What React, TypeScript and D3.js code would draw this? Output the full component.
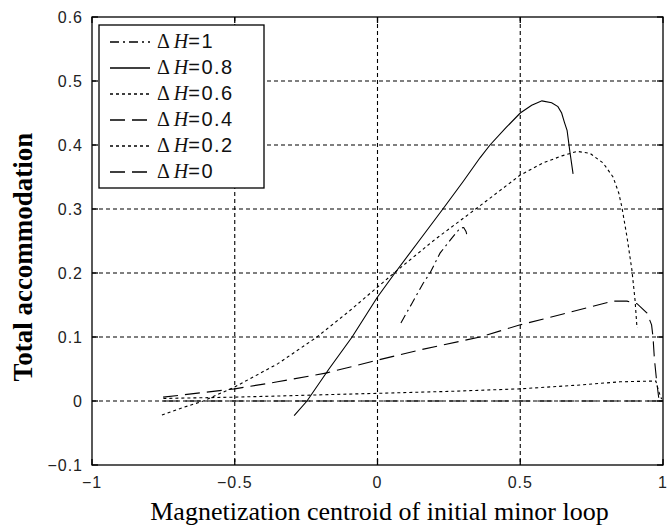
import React, { useRef, useEffect } from "react";
import * as d3 from "d3";

// curves: [magnetization centroid, total accommodation]
const dh1 = [
  [0.082, 0.122], [0.12, 0.152], [0.16, 0.184], [0.184, 0.2], [0.219, 0.231],
  [0.261, 0.255], [0.289, 0.27], [0.302, 0.271], [0.31, 0.265], [0.314, 0.258],
];
const dh08 = [
  [-0.292, -0.023], [-0.247, 0], [-0.17, 0.05], [-0.089, 0.1], [0, 0.1625],
  [0.061, 0.2], [0.145, 0.25], [0.229, 0.3], [0.3, 0.343], [0.359, 0.38],
  [0.394, 0.4], [0.45, 0.427], [0.5, 0.45], [0.54, 0.462], [0.576, 0.469],
  [0.61, 0.466], [0.632, 0.46], [0.645, 0.45], [0.655, 0.435], [0.664, 0.423],
  [0.674, 0.389], [0.685, 0.355],
];
const dh06 = [
  [-0.755, -0.022], [-0.68, -0.01], [-0.61, 0], [-0.5, 0.022], [-0.35, 0.058],
  [-0.212, 0.1], [-0.1, 0.14], [0, 0.178], [0.058, 0.2], [0.2, 0.252],
  [0.359, 0.305], [0.5, 0.353], [0.58, 0.372], [0.646, 0.383], [0.699, 0.39],
  [0.744, 0.387], [0.79, 0.372], [0.825, 0.35], [0.845, 0.325], [0.856, 0.303],
  [0.874, 0.256], [0.891, 0.205], [0.902, 0.158], [0.909, 0.114],
];
const dh04 = [
  [-0.751, 0.006], [-0.5, 0.019], [-0.35, 0.03], [-0.177, 0.044], [-0.026, 0.061],
  [0.15, 0.08], [0.359, 0.1], [0.5, 0.119], [0.65, 0.136], [0.825, 0.156],
  [0.874, 0.156], [0.909, 0.152], [0.944, 0.1375], [0.96, 0.119], [0.965, 0.1],
  [0.97, 0.065], [0.978, 0.03], [0.985, 0.005],
];
const dh02 = [
  [-0.75, 0.004], [-0.5, 0.006], [-0.25, 0.009], [0, 0.012], [0.25, 0.015],
  [0.5, 0.019], [0.709, 0.025], [0.849, 0.03], [0.944, 0.031], [0.975, 0.031],
  [0.985, 0.015], [0.995, 0.003],
];
const dh0 = [[-0.75, 0], [1, 0]];

const legendLabels = ["1", "0.8", "0.6", "0.4", "0.2", "0"];
const xTicks = [-1, -0.5, 0, 0.5, 1];
const yTicks = [-0.1, 0, 0.1, 0.2, 0.3, 0.4, 0.5, 0.6];
const xGrid = [-0.5, 0, 0.5];
const yGrid = [0, 0.1, 0.2, 0.3, 0.4, 0.5];

const series = [
  { data: dh1, dash: "9,4,2,4" },
  { data: dh08, dash: null },
  { data: dh06, dash: "3,3" },
  { data: dh04, dash: "15,7" },
  { data: dh02, dash: "3,3" },
  { data: dh0, dash: "15,7" },
];

const App = () => {
  const ref = useRef<SVGSVGElement>(null);

  useEffect(() => {
    const width = 670;
    const height = 527;
    const left = 92, right = 663, top = 17, bottom = 465;

    const x = d3.scaleLinear().domain([-1, 1]).range([left, right]);
    const y = d3.scaleLinear().domain([-0.1, 0.6]).range([bottom, top]);

    const svg = d3.select(ref.current);
    svg.selectAll("*").remove();
    svg.attr("width", width).attr("height", height);

    svg.append("rect").attr("width", width).attr("height", height).attr("fill", "#fff");

    // dotted grid
    const grid = svg.append("g").attr("stroke", "#000").attr("stroke-dasharray", "4,3").attr("stroke-width", 1.1);
    xGrid.forEach(v => {
      grid.append("line").attr("x1", x(v)).attr("x2", x(v)).attr("y1", top).attr("y2", bottom);
    });
    yGrid.forEach(v => {
      grid.append("line").attr("x1", left).attr("x2", right).attr("y1", y(v)).attr("y2", y(v));
    });

    // curves
    const line = d3.line<number[]>().x(d => x(d[0])).y(d => y(d[1]));
    series.forEach(s => {
      svg.append("path")
        .datum(s.data)
        .attr("fill", "none")
        .attr("stroke", "#000")
        .attr("stroke-width", 1.1)
        .attr("stroke-dasharray", s.dash)
        .attr("d", line);
    });

    // box + inward ticks (matlab style)
    svg.append("rect")
      .attr("x", left).attr("y", top)
      .attr("width", right - left).attr("height", bottom - top)
      .attr("fill", "none").attr("stroke", "#000").attr("stroke-width", 1.3);

    const tk = 6;
    const ticks = svg.append("g").attr("stroke", "#000").attr("stroke-width", 1.3);
    xTicks.forEach(v => {
      ticks.append("line").attr("x1", x(v)).attr("x2", x(v)).attr("y1", bottom).attr("y2", bottom - tk);
      ticks.append("line").attr("x1", x(v)).attr("x2", x(v)).attr("y1", top).attr("y2", top + tk);
    });
    yTicks.forEach(v => {
      ticks.append("line").attr("x1", left).attr("x2", left + tk).attr("y1", y(v)).attr("y2", y(v));
      ticks.append("line").attr("x1", right).attr("x2", right - tk).attr("y1", y(v)).attr("y2", y(v));
    });

    const tickFont = "16px 'Liberation Sans', Arial, sans-serif";
    svg.append("g").selectAll("text").data(xTicks).join("text")
      .attr("x", d => x(d)).attr("y", bottom + 23)
      .attr("text-anchor", "middle")
      .attr("fill", "#222")
      .style("font", tickFont)
      .style("letter-spacing", "1px")
      .text(d => d3.format("")(d));

    svg.append("g").selectAll("text").data(yTicks).join("text")
      .attr("x", left - 9).attr("y", d => y(d))
      .attr("dy", "0.35em")
      .attr("text-anchor", "end")
      .attr("fill", "#222")
      .style("font", tickFont)
      .style("letter-spacing", "1px")
      .text(d => d3.format("")(d));

    // axis titles
    svg.append("text")
      .attr("x", (left + right) / 2 + 2).attr("y", 520)
      .attr("text-anchor", "middle")
      .style("font", "26px 'Liberation Serif', 'Times New Roman', serif")
      .text("Magnetization centroid of initial minor loop");

    svg.append("text")
      .attr("transform", `translate(32,257) rotate(-90)`)
      .attr("text-anchor", "middle")
      .style("font", "bold 27px 'Liberation Serif', 'Times New Roman', serif")
      .text("Total accommodation");

    // legend
    const lg = svg.append("g");
    lg.append("rect")
      .attr("x", 99).attr("y", 25).attr("width", 165).attr("height", 163)
      .attr("fill", "#fff").attr("stroke", "#000").attr("stroke-width", 1.3);
    series.forEach((s, i) => {
      const ly = 42 + i * 26;
      lg.append("line")
        .attr("x1", 110).attr("x2", 150).attr("y1", ly).attr("y2", ly)
        .attr("stroke", "#000").attr("stroke-width", 1.3)
        .attr("stroke-dasharray", s.dash);
      const t = lg.append("text").attr("x", 157).attr("y", ly).attr("dy", "0.35em")
        .attr("fill", "#111");
      t.append("tspan").style("font", "20px 'Liberation Serif', serif").text("\u0394 ");
      t.append("tspan").style("font", "italic 20px 'Liberation Serif', serif").text("H");
      t.append("tspan").style("font", "20px 'Liberation Sans', sans-serif")
        .style("letter-spacing", "1.5px")
        .text("=" + legendLabels[i]);
    });
  }, []);

  return <svg ref={ref} style={{ position: "absolute", left: 0, top: 0 }} />;
};

export default App;
